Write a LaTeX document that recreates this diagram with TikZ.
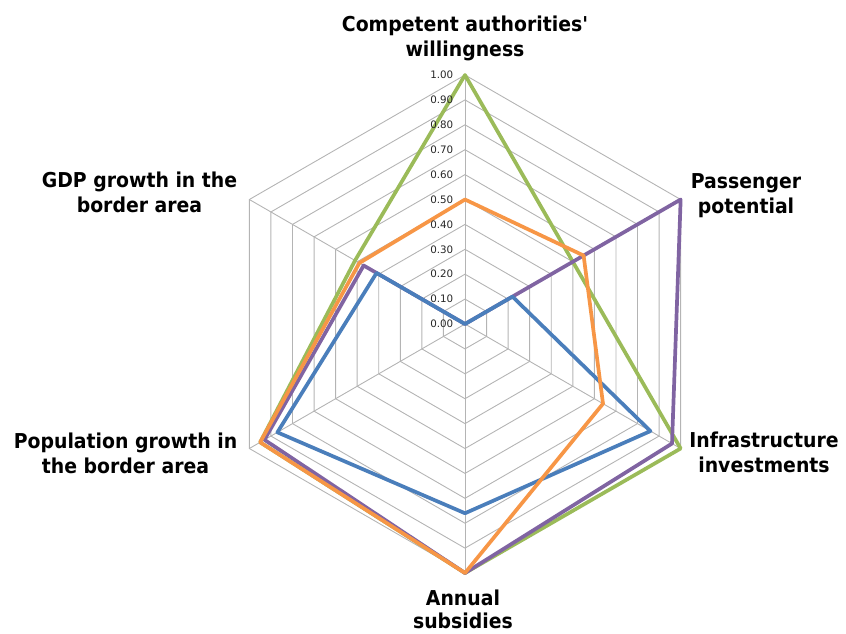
\documentclass[tikz,border=0pt]{standalone}
\usepackage{fontspec}
\newfontfamily\lblfont[FakeStretch=0.92]{DejaVu Sans}
\newfontfamily\tickfont{DejaVu Sans}
\definecolor{gridc}{RGB}{180,180,180}
\definecolor{sblue}{RGB}{74,126,187}
\definecolor{sgreen}{RGB}{155,187,89}
\definecolor{spurple}{RGB}{128,100,162}
\definecolor{sorange}{RGB}{247,150,70}
\begin{document}
\begin{tikzpicture}[x=1pt,y=1pt,
  gridline/.style={draw=gridc,line width=0.9pt},
  series/.style={line width=3.7pt,line join=round},
  axislabel/.style={font=\lblfont\bfseries\fontsize{20.5}{25}\selectfont,anchor=base,inner sep=0pt},
  ticklabel/.style={font=\tickfont\fontsize{10.3}{12}\selectfont,anchor=east,inner sep=0pt,text=black!85}]
\useasboundingbox (0,-633) rectangle (846,0);
\begin{scope}[shift={(465,-324)}]
  \coordinate (O) at (0,0);
  \foreach \k in {1,...,10}{
    \draw[gridline] (90:{\k*24.9}) -- (30:{\k*24.9}) -- (-30:{\k*24.9}) -- (-90:{\k*24.9}) -- (210:{\k*24.9}) -- (150:{\k*24.9}) -- cycle;
  }
  \foreach \a in {90,30,-30,-90,210,150}{
    \draw[gridline] (O) -- (\a:249);
  }
  % green series
  \draw[series,sgreen] (90:249) -- (30:{0.5*249}) -- (-30:249) -- (-90:249) -- (210:{0.95*249}) -- (150:{0.51*249}) -- cycle;
  % purple series
  \draw[series,spurple] (O) -- (30:249) -- (-30:{0.96*249}) -- (-90:249) -- (210:{0.93*249}) -- (150:{0.47*249}) -- cycle;
  % blue series
  \draw[series,sblue] (O) -- (30:{0.22*249}) -- (-30:{0.86*249}) -- (-90:{0.76*249}) -- (210:{0.87*249}) -- (150:{0.41*249}) -- cycle;
  % orange series
  \draw[series,sorange] (90:{0.5*249}) -- (30:{0.55*249}) -- (-30:{0.64*249}) -- (-90:249) -- (210:{0.95*249}) -- (150:{0.49*249}) -- cycle;
  \foreach \k/\t in {0/0.00,1/0.10,2/0.20,3/0.30,4/0.40,5/0.50,6/0.60,7/0.70,8/0.80,9/0.90,10/1.00}{
    \node[ticklabel] (t\k) at (-11.5,{\k*24.9}) {\t};
  }
\end{scope}
\node[axislabel] (c1) at (465,-31.7) {Competent authorities'};
\node[axislabel] (c2) at (465,-56.7) {willingness};
\node[axislabel] (p1) at (746,-188.3) {Passenger};
\node[axislabel] (p2) at (746,-213.3) {potential};
\node[axislabel] (i1) at (764,-447) {Infrastructure};
\node[axislabel] (i2) at (764,-472) {investments};
\node[axislabel] (a1) at (463,-605.5) {Annual};
\node[axislabel] (a2) at (463,-628.5) {subsidies};
\node[axislabel] (g1) at (125.5,-448.3) {Population growth in};
\node[axislabel] (g2) at (125.5,-473.3) {the border area};
\node[axislabel] (d1) at (139.5,-187.5) {GDP growth in the};
\node[axislabel] (d2) at (139.5,-212.5) {border area};
\end{tikzpicture}
\end{document}
